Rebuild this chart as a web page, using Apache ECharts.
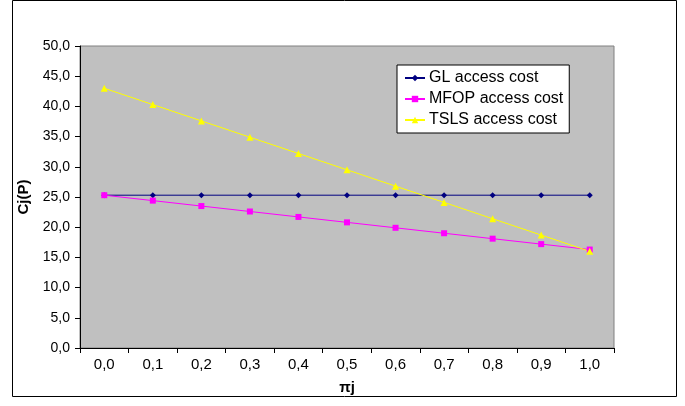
<!DOCTYPE html>
<html><head><meta charset="utf-8">
<script src="https://cdn.jsdelivr.net/npm/echarts@6/dist/echarts.min.js"></script>
<style>html,body{margin:0;padding:0;background:#fff}#c{width:685px;height:406px}</style>
</head><body><div id="c"></div>
<script>
var categories = ['0,0','0,1','0,2','0,3','0,4','0,5','0,6','0,7','0,8','0,9','1,0'];
var glCost   = [25.3,25.3,25.3,25.3,25.3,25.3,25.3,25.3,25.3,25.3,25.3];
var mfopCost = [25.3,24.4,23.5,22.6,21.7,20.8,19.9,19.0,18.1,17.2,16.3];
var tslsCost = [43.0,40.3,37.6,34.9,32.2,29.5,26.8,24.1,21.4,18.7,16.0];
var seriesNames = ['GL access cost','MFOP access cost','TSLS access cost'];

var chart = echarts.init(document.getElementById('c'), null, {renderer:'canvas'});
var font = 'Liberation Sans, Arial, sans-serif';
function mk(name, data, color, symbol, size){
  return {name:name, type:'line', data:data, symbol:symbol, symbolSize:size,
    showAllSymbol:true,
    lineStyle:{color:color, width:1}, itemStyle:{color:color, borderWidth:0},
    emphasis:{disabled:true}, animation:false};
}
chart.setOption({
  animation:false,
  textStyle:{fontFamily:font},
  graphic:[{type:'rect', shape:{x:12.5,y:0.5,width:664,height:396}, style:{fill:'none',stroke:'#000',lineWidth:1}, z:-1}],
  grid:{left:80,right:71,top:46,bottom:58,show:true,backgroundColor:'#C0C0C0',borderColor:'#808080',borderWidth:1},
  legend:{orient:'vertical', left:397, top:65, backgroundColor:'#fff', borderColor:'#000', borderWidth:1,
    padding:[5,6,5,7], itemGap:5, itemWidth:20, itemHeight:8,
    textStyle:{fontFamily:font, fontSize:16, color:'#000', padding:[0,0,0,-1]},
    data:seriesNames},
  xAxis:{type:'category', data:categories, boundaryGap:true,
    name:'πj', nameLocation:'middle', nameGap:32,
    nameTextStyle:{fontFamily:font, fontSize:15, fontWeight:'bold', color:'#000'},
    axisLine:{lineStyle:{color:'#000',width:1}},
    axisTick:{show:true, length:5, alignWithLabel:false, lineStyle:{color:'#000'}},
    axisLabel:{fontFamily:font, fontSize:15, color:'#000', margin:9},
    splitLine:{show:false}},
  yAxis:{type:'value', min:0, max:50, interval:5,
    name:'Cj(P)', nameLocation:'middle', nameGap:44, nameRotate:90,
    nameTextStyle:{fontFamily:font, fontSize:15, fontWeight:'bold', color:'#000'},
    axisLine:{show:true, lineStyle:{color:'#000',width:1}},
    axisTick:{show:true, length:5, lineStyle:{color:'#000'}},
    axisLabel:{fontFamily:font, fontSize:14, color:'#000', margin:10,
      formatter:function(v){return v.toFixed(1).replace('.',',');}},
    splitLine:{show:false}},
  series:[
    mk(seriesNames[0], glCost, '#000080', 'diamond', 6),
    mk(seriesNames[1], mfopCost, '#FF00FF', 'rect', 6),
    mk(seriesNames[2], tslsCost, '#FFFF00', 'triangle', 7)
  ]
});
</script></body></html>
